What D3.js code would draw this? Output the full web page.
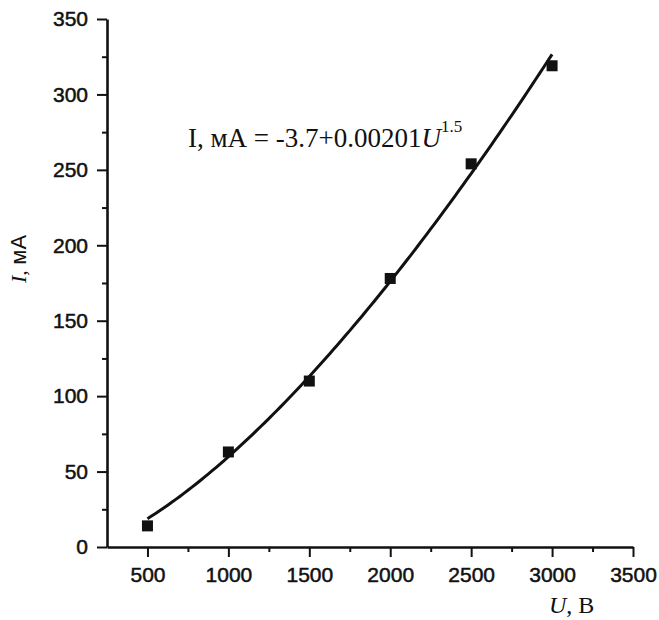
<!DOCTYPE html>
<html>
<head>
<meta charset="utf-8">
<script src="https://cdn.jsdelivr.net/npm/d3@7"></script>
<style>
  body { margin: 0; background: #fff; }
  .tick text { font-family: "Liberation Sans", Arial, sans-serif; font-size: 21px; fill: #111; stroke: #111; stroke-width: 0.5px; }
  .serif { font-family: "Liberation Serif", "Times New Roman", serif; fill: #111; }
</style>
</head>
<body>
<svg id="chart" width="659" height="620"></svg>
<script>
// measured points
const voltage = [500, 1000, 1500, 2000, 2500, 3000];   // U, B
const current = [14, 63, 110, 178, 254, 319];           // I, mA

// fit from the annotation: I = a + b * U^p
const fitA = -3.7;
const fitB = 0.00201;
const fitP = 1.5;

const xTicks = [500, 1000, 1500, 2000, 2500, 3000, 3500];
const yTicks = [0, 50, 100, 150, 200, 250, 300, 350];

const svg = d3.select('#chart');
const x = d3.scaleLinear().domain([250, 3500]).range([107, 633]);
const y = d3.scaleLinear().domain([0, 350]).range([547, 19]);

// minor ticks first so major ones sit on top
svg.append('g').attr('transform', `translate(0,${y(0)})`)
    .call(d3.axisBottom(x).tickValues(d3.range(750, 3500, 500)).tickSize(5).tickFormat(''))
    .call(g => g.select('.domain').remove())
    .selectAll('line').attr('stroke', '#111').attr('stroke-width', 2);
svg.append('g').attr('transform', `translate(${x(250)},0)`)
    .call(d3.axisLeft(y).tickValues(d3.range(25, 350, 50)).tickSize(5).tickFormat(''))
    .call(g => g.select('.domain').remove())
    .selectAll('line').attr('stroke', '#111').attr('stroke-width', 2);

const xAxis = svg.append('g').attr('transform', `translate(0,${y(0)})`)
    .call(d3.axisBottom(x).tickValues(xTicks).tickFormat(d3.format('d'))
        .tickSize(10).tickSizeOuter(0).tickPadding(10));
const yAxis = svg.append('g').attr('transform', `translate(${x(250)},0)`)
    .call(d3.axisLeft(y).tickValues(yTicks).tickFormat(d3.format('d'))
        .tickSize(10).tickSizeOuter(0).tickPadding(9));

[xAxis, yAxis].forEach(g => {
    g.select('.domain').attr('stroke', '#111').attr('stroke-width', 2.6);
    g.selectAll('.tick line').attr('stroke', '#111').attr('stroke-width', 2);
});

// fit curve
const fitU = d3.range(voltage[0], voltage[voltage.length - 1] + 1, 25);
const line = d3.line()
    .x(d => x(d))
    .y(d => y(fitA + fitB * Math.pow(d, fitP)));
svg.append('path')
    .datum(fitU)
    .attr('d', line)
    .attr('fill', 'none')
    .attr('stroke', '#111')
    .attr('stroke-width', 3);

// markers
const s = 11;
svg.append('g').selectAll('rect')
    .data(voltage.map((u, i) => ({ u, i: current[i] })))
    .enter().append('rect')
    .attr('x', d => x(d.u) - s / 2)
    .attr('y', d => y(d.i) - s / 2)
    .attr('width', s).attr('height', s)
    .attr('fill', '#111');

// annotation
const ann = svg.append('text').attr('class', 'serif')
    .attr('x', 188).attr('y', 147).attr('font-size', 27);
ann.append('tspan').text('I, мА = -3.7+0.00201');
ann.append('tspan').attr('font-style', 'italic').text('U');
ann.append('tspan').attr('font-size', 17).attr('dy', -15).text('1.5');

// axis titles
const xt = svg.append('text').attr('class', 'serif')
    .attr('x', 549).attr('y', 613).attr('font-size', 24);
xt.append('tspan').attr('font-style', 'italic').text('U');
xt.append('tspan').text(', В');

const yt = svg.append('text')
    .attr('transform', 'translate(26,259) rotate(-90)')
    .attr('text-anchor', 'middle').attr('font-size', 22).attr('fill', '#111');
yt.append('tspan').attr('class', 'serif').attr('font-style', 'italic').text('I');
yt.append('tspan').attr('class', 'serif').text(', ');
yt.append('tspan').attr('font-family', '"Liberation Sans", Arial, sans-serif').text('мА');
</script>
</body>
</html>
